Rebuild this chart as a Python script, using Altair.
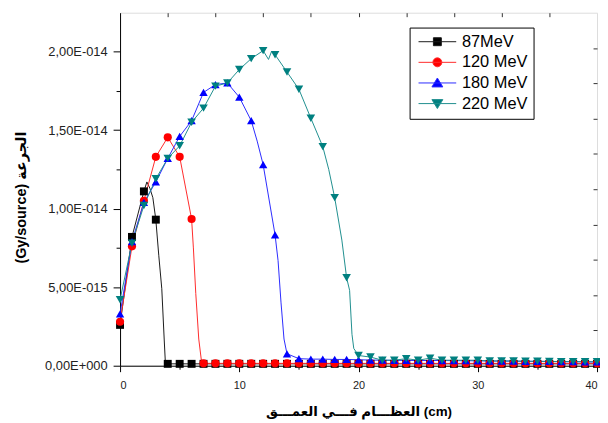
import altair as alt
import pandas as pd

# ---------------- data ----------------
series = ["87MeV", "120 MeV", "180 MeV", "220 MeV"]
marker_colors = ["#000000", "#ff0000", "#0000ff", "#008080"]
line_colors = ["#1a1a1a", "#ff2a2a", "#2a2aff", "#1f8f8f"]
marker_shapes = ["square", "circle", "triangle-up", "triangle-down"]
marker_sizes = [64, 75, 90, 90]

# dose in units of 1E-14 Gy/source, depth in cm
x87 = [0, 1, 2, 2.25, 2.5, 2.75, 3, 3.25, 3.5, 3.7, 3.8,
       4, 5, 6, 7, 8, 9, 10, 11, 12, 13, 14, 15, 16, 17, 18, 19, 20, 21, 22,
       23, 24, 25, 26, 27, 28, 29, 30, 31, 32, 33, 34, 35, 36, 37, 38, 39, 40]
y87 = [0.26, 0.82, 1.11, 1.17, 1.13, 1.07, 0.93, 0.70, 0.49, 0.17, 0.02,
       0.012, 0.012, 0.012, 0.012, 0.012, 0.012, 0.012, 0.012, 0.012, 0.012,
       0.012, 0.012, 0.012, 0.012, 0.012, 0.012, 0.012, 0.012, 0.012, 0.012,
       0.012, 0.012, 0.012, 0.012, 0.012, 0.012, 0.012, 0.012, 0.012, 0.012,
       0.012, 0.012, 0.012, 0.012, 0.012, 0.012, 0.012]

x120 = [0, 1, 2, 3, 4, 5, 6, 6.15, 6.35, 6.6, 6.85,
        7, 8, 9, 10, 11, 12, 13, 14, 15, 16, 17, 18, 19, 20, 21, 22, 23, 24,
        25, 26, 27, 28, 29, 30, 31, 32, 33, 34, 35, 36, 37, 38, 39, 40]
y120 = [0.28, 0.76, 1.05, 1.33, 1.454, 1.33, 0.934, 0.75, 0.46, 0.17, 0.015,
        0.015, 0.015, 0.015, 0.015, 0.015, 0.015, 0.015, 0.015, 0.015, 0.015,
        0.015, 0.015, 0.015, 0.015, 0.015, 0.015, 0.015, 0.015, 0.015, 0.015,
        0.015, 0.015, 0.015, 0.015, 0.015, 0.015, 0.015, 0.015, 0.015, 0.015,
        0.015, 0.015, 0.015, 0.015]

x180 = [0, 1, 2, 3, 4, 5, 6, 7, 8, 9, 10, 11, 11.5, 12, 13, 13.25, 13.5, 13.75,
        14, 15, 16, 17, 18, 19, 20, 21, 22, 23, 24, 25, 26, 27, 28, 29, 30,
        31, 32, 33, 34, 35, 36, 37, 38, 39, 40]
y180 = [0.33, 0.79, 1.04, 1.17, 1.32, 1.46, 1.56, 1.74, 1.79, 1.80, 1.71, 1.56,
        1.43, 1.28, 0.833, 0.67, 0.40, 0.17,
        0.076, 0.045, 0.042, 0.042, 0.040, 0.040, 0.038, 0.036, 0.035, 0.034,
        0.034, 0.033, 0.033, 0.033, 0.032, 0.032, 0.031, 0.030, 0.030, 0.029,
        0.028, 0.028, 0.027, 0.026, 0.026, 0.025, 0.024]

x220 = [0, 1, 2, 3, 4, 5, 6, 7, 8, 9, 10, 11, 12, 12.45, 12.7, 13, 14, 15, 16,
        17, 17.5, 18, 18.6, 19, 19.25, 19.45, 19.6,
        20, 21, 22, 23, 24, 25, 26, 27, 28, 29, 30, 31, 32, 33, 34, 35, 36,
        37, 38, 39, 40]
y220 = [0.42, 0.78, 1.02, 1.19, 1.32, 1.40, 1.55, 1.64, 1.78, 1.80, 1.886,
        1.955, 2.006, 1.95, 2.00, 1.98, 1.87, 1.76, 1.576,
        1.395, 1.25, 1.07, 0.80, 0.56, 0.48, 0.20, 0.11,
        0.065, 0.055, 0.035, 0.035, 0.045, 0.035, 0.048, 0.035, 0.035, 0.035,
        0.035, 0.030, 0.030, 0.030, 0.028, 0.028, 0.027, 0.026, 0.026, 0.025,
        0.025]

y_major = [0, 0.25, 0.5, 0.75, 1.0, 1.25, 1.5, 1.75, 2.0]
x_major = [0, 5, 10, 15, 20, 25, 30, 35, 40]
top_ticks = [4, 8, 12, 16, 20, 24, 28, 32, 36]
right_ticks = [0.22475, 0.4495, 0.67425, 0.899, 1.12375, 1.3485, 1.57325, 1.798, 2.02275]

# word order written so that it is displayed as in the reference
x_title = "العظـــام فـــي العمـــق (cm)"
y_title = "(Gy/source) الجرعة"

# legend symbols: line through marker (unit = sqrt(size)/2 px)
legend_paths = [
    "M-3.8,0H3.8M-0.8,-0.8H0.8V0.8H-0.8Z",
    "M-3.8,0H3.8M-0.9,0A0.9,0.9,0,1,0,0.9,0A0.9,0.9,0,1,0,-0.9,0Z",
    "M-3.8,0H3.8M0,-1L1.1,0.8L-1.1,0.8Z",
    "M-3.8,0H3.8M0,1L1.1,-0.8L-1.1,-0.8Z",
]

rows = []
for name, xs, ys in zip(series, [x87, x120, x180, x220], [y87, y120, y180, y220]):
    for xv, yv in zip(xs, ys):
        rows.append({"series": name, "x": xv, "y": yv,
                     "marker": float(xv).is_integer()})
df = pd.DataFrame(rows)
df["order"] = range(len(df))

FONT = "Liberation Sans, Arial, DejaVu Sans, sans-serif"

x_scale = alt.Scale(domain=[0, 40], nice=False, zero=False)
y_scale = alt.Scale(domain=[0, 2.2475], nice=False, zero=False)

y_label_expr = (
    "datum.value === 0 ? '0,00E+000' : (datum.value % 0.5 !== 0 ? '' : "
    "(datum.value < 1 ? replace(format(datum.value * 10, '.2f'), '.', ',') + 'E-015' : "
    "replace(format(datum.value, '.2f'), '.', ',') + 'E-014'))"
)

x_axis = alt.Axis(
    values=x_major,
    labelExpr="datum.value % 10 === 0 ? format(datum.value, 'd') : ''",
    tickSize={"condition": {"test": "datum.value % 10 === 0", "value": 6}, "value": 3.5},
    labelFont=FONT, labelFontSize=11, labelColor="#222", labelPadding=8,
    domainColor="#000", tickColor="#000", grid=False,
    title=x_title, titleFont=FONT, titleFontSize=13.5, titleFontWeight="bold",
    titleColor="#000", titleX=240.5, titleY=50.5, titleBaseline="alphabetic",
    titleAlign="center",
)
y_axis = alt.Axis(
    values=y_major,
    labelExpr=y_label_expr,
    tickSize={"condition": {"test": "datum.value % 0.5 === 0", "value": 7}, "value": 4},
    labelFont=FONT, labelFontSize=13, labelColor="#222", labelPadding=6,
    domainColor="#000", tickColor="#000", grid=False,
    title=y_title, titleFont=FONT, titleFontSize=14.5, titleFontWeight="bold",
    titleColor="#000", titleX=-99, titleY=186, titleAngle=270,
    titleBaseline="middle", titleAlign="center",
)

lines = alt.Chart(df).mark_line(strokeWidth=1).encode(
    x=alt.X("x:Q", scale=x_scale, axis=x_axis),
    y=alt.Y("y:Q", scale=y_scale, axis=y_axis),
    stroke=alt.Stroke("series:N", scale=alt.Scale(domain=series, range=line_colors), legend=None),
    order="order:Q",
)

points = alt.Chart(df).transform_filter("datum.marker").mark_point(
    filled=True, opacity=1
).encode(
    x=alt.X("x:Q", scale=x_scale, axis=None),
    y=alt.Y("y:Q", scale=y_scale, axis=None),
    fill=alt.Fill("series:N", scale=alt.Scale(domain=series, range=marker_colors), legend=None),
    shape=alt.Shape("series:N", scale=alt.Scale(domain=series, range=marker_shapes), legend=None),
    size=alt.Size("series:N", scale=alt.Scale(domain=series, range=marker_sizes), legend=None),
    order="order:Q",
)

frame_axes = alt.Chart(df).transform_filter("false").mark_point().encode(
    x=alt.X("x:Q", scale=x_scale, axis=alt.Axis(
        orient="top", values=top_ticks, labels=False, domain=False, tickSize=4,
        offset=-4, title=None, grid=False, tickColor="#333")),
    y=alt.Y("y:Q", scale=y_scale, axis=alt.Axis(
        orient="right", values=right_ticks, labels=False, domain=False, tickSize=4,
        offset=-4, title=None, grid=False, tickColor="#333")),
)

leg = alt.Legend(
    orient="none", legendX=292, legendY=15, title=None,
    strokeColor="#000", fillColor="#ffffff", padding=6,
    symbolSize=100, symbolStrokeWidth=1, symbolOffset=13.75,
    labelOffset=16.5, labelFont=FONT, labelFontSize=16.5, labelColor="#000",
    rowPadding=3.8, symbolOpacity=1,
)
legend_layer = alt.Chart(df).transform_filter("false").mark_point(
    filled=True, opacity=1, size=100, strokeWidth=1
).encode(
    x=alt.X("x:Q", scale=x_scale, axis=None),
    y=alt.Y("y:Q", scale=y_scale, axis=None),
    fill=alt.Fill("series:N", scale=alt.Scale(domain=series, range=marker_colors), legend=leg),
    stroke=alt.Stroke("series:N", scale=alt.Scale(domain=series, range=line_colors), legend=leg),
    shape=alt.Shape("series:N", scale=alt.Scale(domain=series, range=legend_paths), legend=leg),
)

chart = alt.layer(lines, points, frame_axes, legend_layer).resolve_scale(
    fill="independent", stroke="independent", shape="independent", size="independent"
).resolve_axis(
    x="independent", y="independent"
).properties(
    width=481, height=356, autosize="none",
    padding={"left": 113, "top": 3, "right": 3, "bottom": 54},
).configure_view(
    stroke="#555", strokeWidth=1
).configure(background="#ffffff")

chart.save("out.html", embed_options={"renderer": "svg", "actions": False})
